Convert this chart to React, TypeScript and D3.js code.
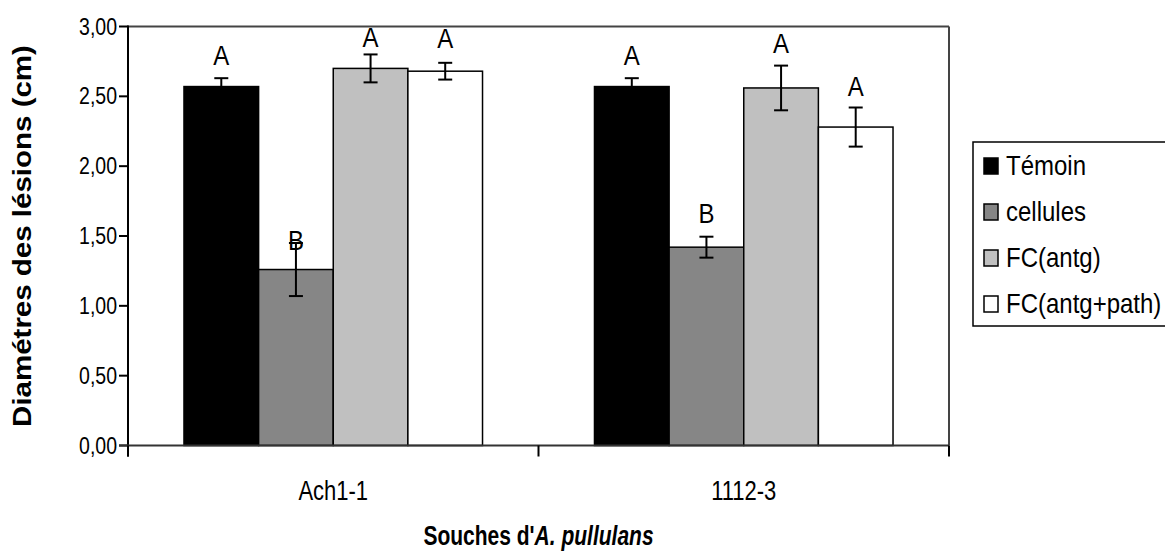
import React from "react";
import * as d3 from "d3";

const categories = ["Ach1-1", "1112-3"];
const seriesNames = ["Témoin", "cellules", "FC(antg)", "FC(antg+path)"];
const seriesColors = ["#000000", "#868686", "#c0c0c0", "#ffffff"];
const temoinValues = [2.57, 2.57];
const cellulesValues = [1.26, 1.42];
const fcAntgValues = [2.7, 2.56];
const fcAntgPathValues = [2.68, 2.28];
const temoinErrors = [0.06, 0.06];
const cellulesErrors = [0.19, 0.075];
const fcAntgErrors = [0.1, 0.16];
const fcAntgPathErrors = [0.06, 0.14];
const temoinLetters = ["A", "A"];
const cellulesLetters = ["B", "B"];
const fcAntgLetters = ["A", "A"];
const fcAntgPathLetters = ["A", "A"];
// letter baseline heights, in data units
const temoinLetterAt = [2.724, 2.724];
const cellulesLetterAt = [1.4, 1.591];
const fcAntgLetterAt = [2.853, 2.808];
const fcAntgPathLetterAt = [2.846, 2.502];
const yTicks = [0, 0.5, 1, 1.5, 2, 2.5, 3];

const allValues = [temoinValues, cellulesValues, fcAntgValues, fcAntgPathValues];
const allErrors = [temoinErrors, cellulesErrors, fcAntgErrors, fcAntgPathErrors];
const allLetters = [temoinLetters, cellulesLetters, fcAntgLetters, fcAntgPathLetters];
const allLetterAt = [temoinLetterAt, cellulesLetterAt, fcAntgLetterAt, fcAntgPathLetterAt];

const W = 1165;
const H = 553;
const M = { left: 128, top: 26.5, right: 949, bottom: 445.5 };
const FONT = "'Liberation Sans', Arial, sans-serif";
const SY = 1.18;

const fmt = (v: number) => v.toFixed(2).replace(".", ",");

function SText(props: { x: number; y: number; size: number; anchor?: string; weight?: string; children: React.ReactNode; sy?: number }) {
  const { x, y, size, anchor = "start", weight = "normal", children, sy = SY } = props;
  return (
    <text
      transform={`translate(${x},${y}) scale(1,${sy})`}
      fontSize={size}
      fontFamily={FONT}
      fontWeight={weight}
      textAnchor={anchor}
      fill="#000"
    >
      {children}
    </text>
  );
}

export default function App() {
  const x0 = d3.scaleBand<string>().domain(categories).range([M.left, M.right]).paddingInner(0).paddingOuter(0);
  const y = d3.scaleLinear().domain([0, 3]).range([M.bottom, M.top]);
  const bw = x0.bandwidth();
  const groupW = bw / (1 + 1.5 / 4);
  const x1 = d3.scaleBand<number>().domain([0, 1, 2, 3]).range([0, groupW]).padding(0);
  const barW = x1.bandwidth();
  const capW = 14;

  return (
    <svg width={W} height={H} style={{ display: "block", position: "absolute", left: 0, top: 0 }}>
      <rect x={0} y={0} width={W} height={H} fill="#fff" />
      {/* bars */}
      {categories.map((c, ci) => {
        const gx = (x0(c) as number) + (bw - groupW) / 2;
        return (
          <g key={c}>
            {seriesNames.map((s, si) => {
              const v = allValues[si][ci];
              const bx = gx + (x1(si) as number);
              return (
                <rect
                  key={s}
                  x={bx}
                  y={y(v)}
                  width={barW}
                  height={y(0) - y(v)}
                  fill={seriesColors[si]}
                  stroke="#000"
                  strokeWidth={1.5}
                />
              );
            })}
          </g>
        );
      })}
      {/* plot border top/right */}
      <line x1={M.left} x2={M.right} y1={M.top} y2={M.top} stroke="#444" strokeWidth={2} />
      <line x1={M.right} x2={M.right} y1={M.top} y2={M.bottom} stroke="#444" strokeWidth={2} />
      {/* error bars and letters */}
      {categories.map((c, ci) => {
        const gx = (x0(c) as number) + (bw - groupW) / 2;
        return (
          <g key={c + "e"}>
            {seriesNames.map((s, si) => {
              const v = allValues[si][ci];
              const e = allErrors[si][ci];
              const cx = gx + (x1(si) as number) + barW / 2;
              return (
                <g key={s} stroke="#000" strokeWidth={2}>
                  <line x1={cx} x2={cx} y1={y(v + e)} y2={y(v - e)} />
                  <line x1={cx - capW / 2} x2={cx + capW / 2} y1={y(v + e)} y2={y(v + e)} />
                  <line x1={cx - capW / 2} x2={cx + capW / 2} y1={y(v - e)} y2={y(v - e)} />
                </g>
              );
            })}
            {seriesNames.map((s, si) => {
              const cx = gx + (x1(si) as number) + barW / 2;
              return (
                <SText key={s + "l"} x={cx} y={y(allLetterAt[si][ci])} size={24} anchor="middle">
                  {allLetters[si][ci]}
                </SText>
              );
            })}
          </g>
        );
      })}
      {/* y axis */}
      <line x1={M.left} x2={M.left} y1={M.top - 1} y2={M.bottom + 11} stroke="#000" strokeWidth={2} />
      {yTicks.map((t) => (
        <g key={t}>
          <line x1={M.left - 9} x2={M.left} y1={y(t)} y2={y(t)} stroke="#000" strokeWidth={2} />
          <SText x={M.left - 11} y={y(t) + 8} size={19.5} anchor="end" sy={1.25}>
            {fmt(t)}
          </SText>
        </g>
      ))}
      {/* x axis */}
      <line x1={M.left - 9} x2={M.right} y1={M.bottom} y2={M.bottom} stroke="#333" strokeWidth={2} />
      {[...categories.map((c) => x0(c) as number), M.right].map((tx, i) => (
        <line key={i} x1={tx} x2={tx} y1={M.bottom} y2={M.bottom + 11} stroke="#000" strokeWidth={2} />
      ))}
      {categories.map((c) => (
        <SText key={c} x={(x0(c) as number) + bw / 2} y={500} size={22} anchor="middle" sy={1.28}>
          {c}
        </SText>
      ))}
      {/* axis titles */}
      <g transform={`translate(31,${(M.top + M.bottom) / 2}) rotate(-90)`}>
        <text
          transform={`scale(${SY},1)`}
          fontSize={25}
          fontWeight="bold"
          fontFamily={FONT}
          textAnchor="middle"
          fill="#000"
        >
          Diamétres des lésions (cm)
        </text>
      </g>
      <SText x={(M.left + M.right) / 2} y={545} size={21} anchor="middle" weight="bold" sy={1.28}>
        <tspan>Souches d'</tspan>
        <tspan fontStyle="italic">A. pullulans</tspan>
      </SText>
      {/* legend */}
      <rect x={973} y={142} width={220} height={184} fill="#fff" stroke="#000" strokeWidth={1.5} />
      {seriesNames.map((s, si) => {
        const cy = 166 + si * 46;
        return (
          <g key={s}>
            <rect x={984} y={cy - 8} width={14} height={16} fill={seriesColors[si]} stroke="#000" strokeWidth={1.5} />
            <SText x={1006} y={cy + 9} size={24}>
              {s}
            </SText>
          </g>
        );
      })}
    </svg>
  );
}
